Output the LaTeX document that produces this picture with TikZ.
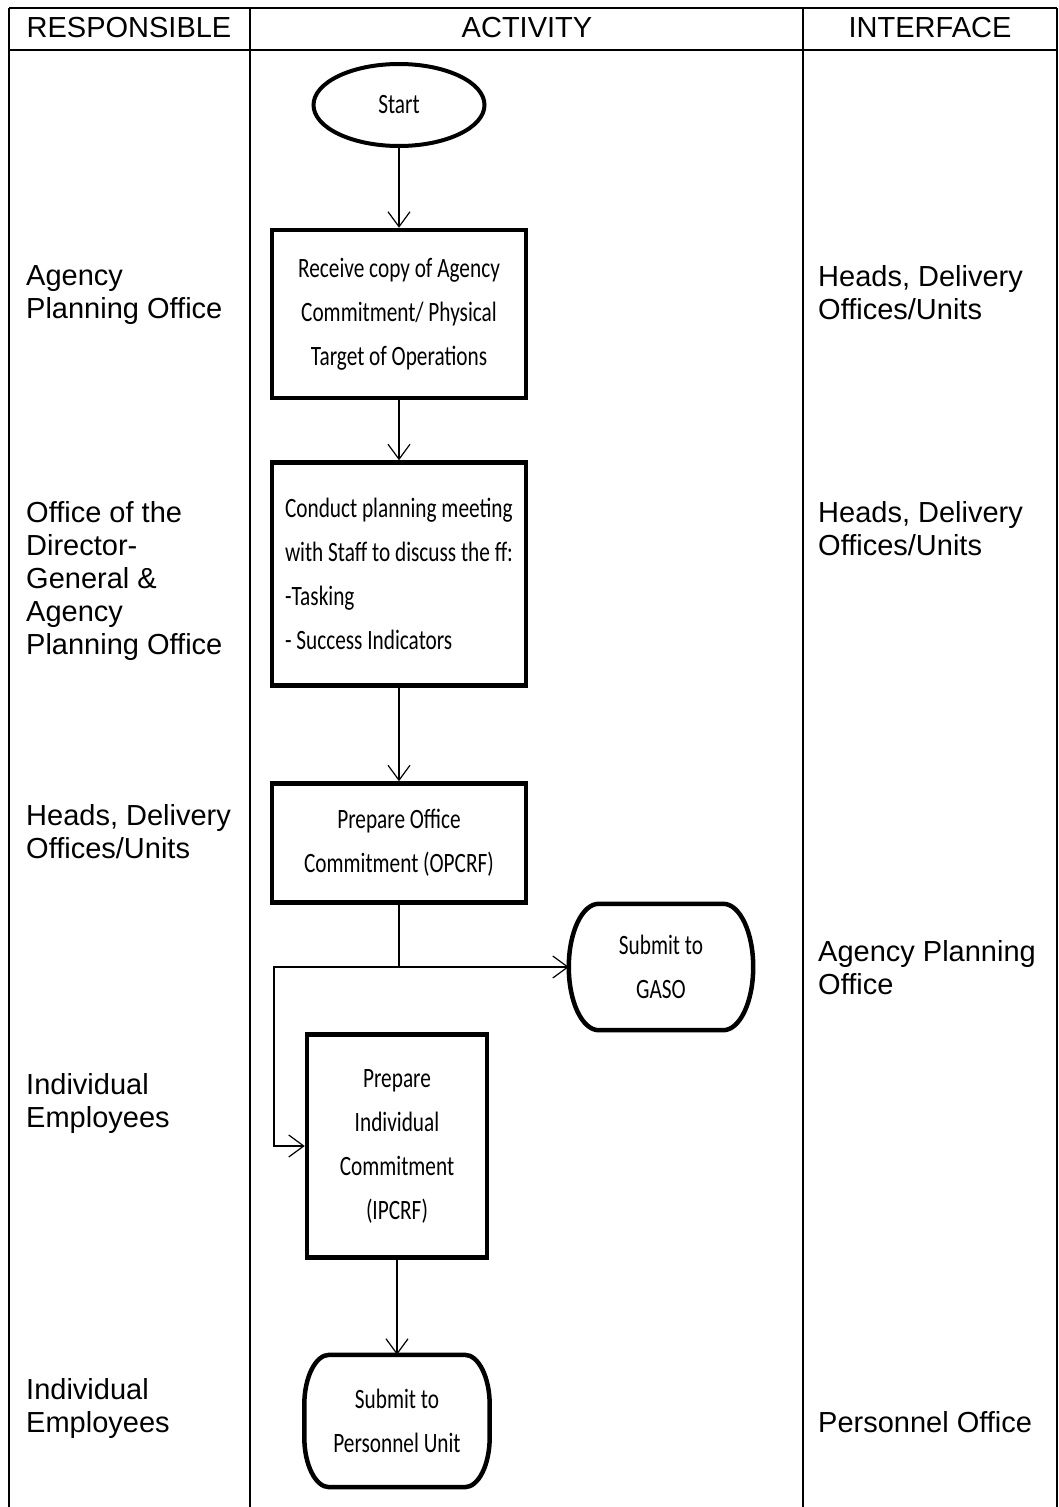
\documentclass[tikz,border=0pt]{standalone}
\usepackage{fontspec}
\setmainfont{Liberation Sans}
\newfontfamily\flowfont[FakeStretch=0.76]{Carlito}
\usetikzlibrary{arrows.meta,positioning,shapes.geometric}

% outline of a terminal: node, corner x radius, corner y radius
\newcommand{\termline}[3]{%
  \draw[line width=4.5pt] ([xshift=#2]#1.north west) -- ([xshift=-#2]#1.north east)
    arc[start angle=90,end angle=0,x radius=#2,y radius=#3] -- ([yshift=#3]#1.south east)
    arc[start angle=0,end angle=-90,x radius=#2,y radius=#3] -- ([xshift=#2]#1.south west)
    arc[start angle=270,end angle=180,x radius=#2,y radius=#3] -- ([yshift=-#3]#1.north west)
    arc[start angle=180,end angle=90,x radius=#2,y radius=#3] -- cycle;}

\begin{document}
\begin{tikzpicture}[
  x=1pt,y=-1pt,
  every node/.style={inner sep=0pt},
  grid/.style={line width=1.8pt},
  head/.style={font=\fontsize{29}{33}\selectfont},
  lbl/.style={anchor=north west,align=left,font=\fontsize{29}{33}\selectfont},
  act/.style={draw,line width=4.5pt,align=center,font=\flowfont\fontsize{28}{44}\selectfont},
  term/.style={align=center,font=\flowfont\fontsize{28}{44}\selectfont},
  flow/.style={line width=1.2pt,-{Straight Barb[length=15pt,width=22pt]}}
]
\useasboundingbox (0,0) rectangle (1059,1507);

% table
\draw[grid] (9,8) -- (1057,8);
\draw[grid] (9,50) -- (1057,50);
\foreach \x in {9,250,803,1057}
  \draw[grid] (\x,8) -- (\x,1507);

\node[head] (hresp) at (129,28) {RESPONSIBLE};
\node[head] (hact) at (527,28) {ACTIVITY};
\node[head] (hint) at (930,28) {INTERFACE};

% responsible
\node[lbl] (resp1) at (26,265) {Agency\\Planning Office};
\node[lbl] (resp2) at (26,501) {Office of the\\Director-\\General \&\\Agency\\Planning Office};
\node[lbl] (resp3) at (26,804) {Heads, Delivery\\Offices/Units};
\node[lbl] (resp4) at (26,1073) {Individual\\Employees};
\node[lbl] (resp5) at (26,1378) {Individual\\Employees};

% interface
\node[lbl] (int1) at (818,265) {Heads, Delivery\\Offices/Units};
\node[lbl] (int2) at (818,501) {Heads, Delivery\\Offices/Units};
\node[lbl] (int3) at (818,940) {Agency Planning\\Office};
\node[lbl] (int4) at (818,1411) {Personnel Office};

% activity
\node[ellipse,draw,line width=4pt,minimum width=171pt,minimum height=82pt,
  font=\flowfont\fontsize{28}{44}\selectfont] (start) at (399,105) {Start};
\node[act,minimum width=254pt,minimum height=168pt] (recv) at (399,314)
  {Receive copy of Agency\\Commitment/ Physical\\Target of Operations};
\node[act,align=left,minimum width=254pt,minimum height=223pt] (meet) at (399,574)
  {Conduct planning meeting\\with Staff to discuss the ff:\\-Tasking\\- Success Indicators};
\node[act,minimum width=254pt,minimum height=119pt] (opcrf) at (399,843)
  {Prepare Office\\Commitment (OPCRF)};
\node[term,minimum width=184pt,minimum height=126pt] (gaso) at (661,967) {Submit to\\GASO};
\termline{gaso}{30pt}{63pt}
\node[act,minimum width=180pt,minimum height=223pt] (ipcrf) at (397,1146)
  {Prepare\\Individual\\Commitment\\(IPCRF)};
\node[term,minimum width=185pt,minimum height=132pt] (pers) at (397,1421)
  {Submit to\\Personnel Unit};
\termline{pers}{25pt}{50pt}

% connectors
\coordinate (split) at (opcrf.south |- gaso.west);
\coordinate (bend) at (274,967);
\draw[flow] (start) -- (recv);
\draw[flow] (recv) -- (meet);
\draw[flow] (meet) -- (opcrf);
\draw[line width=1.2pt] (opcrf.south) -- (split);
\draw[flow] (split) -- (gaso.west);
\draw[flow] (split) -- (bend) |- (ipcrf.west);
\draw[flow] (ipcrf) -- (pers);
\end{tikzpicture}
\end{document}
